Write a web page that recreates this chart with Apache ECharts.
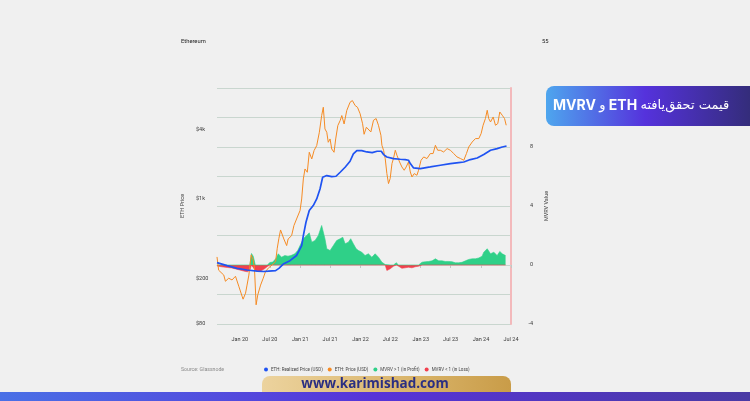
<!DOCTYPE html>
<html>
<head>
<meta charset="utf-8">
<script src="https://cdn.jsdelivr.net/npm/echarts@6/dist/echarts.min.js"></script>
<style>
html,body{margin:0;padding:0;background:#f0f0f0;}
#c{width:750px;height:401px;}
</style>
</head>
<body>
<div id="c"></div>
<script>
// ---------- data ----------
const ethPrice = [
['2019-08-16',307],['2019-08-26',235],['2019-09-06',244],['2019-09-26',213],['2019-10-06',188],['2019-10-26',200],
['2019-11-15',193],['2019-12-06',208],['2019-12-26',170],['2020-01-15',139],['2020-01-21',131],['2020-02-05',148],
['2020-02-14',174],['2020-02-25',213],['2020-03-10',320],['2020-03-22',289],['2020-03-30',244],['2020-04-09',117],
['2020-04-19',143],['2020-05-06',174],['2020-05-22',200],['2020-06-05',229],['2020-06-25',248],['2020-07-15',261],
['2020-08-05',280],['2020-08-15',366],['2020-08-25',447],['2020-09-04',529],['2020-09-24',441],['2020-10-11',386],
['2020-10-20',441],['2020-11-10',472],['2020-11-24',578],['2020-12-10',660],['2020-12-31',782],['2021-01-10',988],
['2021-01-20',1479],['2021-01-30',1809],['2021-02-13',1693],['2021-02-25',2533],['2021-03-12',2214],['2021-03-26',2622],
['2021-04-11',2900],['2021-04-27',3793],['2021-05-11',5311],['2021-05-21',6279],['2021-05-31',4054],['2021-06-11',3793],
['2021-06-20',3099],['2021-07-01',3313],['2021-07-11',2707],['2021-07-25',2533],['2021-08-04',3313],['2021-08-17',4342],
['2021-08-31',4801],['2021-09-10',5311],['2021-09-24',4484],['2021-10-10',5873],['2021-10-30',6944],['2021-11-13',7185],
['2021-11-30',6496],['2021-12-14',6279],['2021-12-30',5507],['2022-01-14',4502],['2022-01-23',3642],['2022-02-06',4195],
['2022-02-18',4195],['2022-03-05',3816],['2022-03-21',4830],['2022-04-06',4998],['2022-04-20',4368],['2022-05-05',3570],
['2022-05-11',2917],['2022-05-21',2638],['2022-05-31',2232],['2022-06-10',1649],['2022-06-20',1348],['2022-06-30',1491],
['2022-07-11',2017],['2022-07-20',2232],['2022-07-31',2638],['2022-08-10',2385],['2022-08-26',2083],['2022-09-09',1884],
['2022-09-23',1763],['2022-10-05',1884],['2022-10-19',2083],['2022-10-30',1703],['2022-11-09',1540],['2022-11-23',1649],
['2022-12-09',1593],['2022-12-19',1763],['2023-01-03',2156],['2023-01-19',2305],['2023-02-08',2232],['2023-02-28',2468],
['2023-03-17',2468],['2023-03-31',2917],['2023-04-14',2638],['2023-04-30',2638],['2023-05-20',2549],['2023-06-10',2729],
['2023-06-30',2638],['2023-07-20',2468],['2023-08-09',2305],['2023-08-30',2232],['2023-09-19',2156],['2023-10-05',2468],
['2023-10-19',2818],['2023-11-09',3118],['2023-11-29',3340],['2023-12-19',3340],['2024-01-02',3694],['2024-01-14',4368],
['2024-01-28',4998],['2024-02-08',5908],['2024-02-17',4998],['2024-02-28',4668],['2024-03-15',5161],['2024-03-29',4368],
['2024-04-12',4519],['2024-04-24',5709],['2024-05-09',5342],['2024-05-23',4998],['2024-06-02',4368]
];
const realizedPrice = [
['2019-08-16',274],['2019-10-16',258],['2019-12-16',244],['2020-02-14',236],['2020-04-15',231],['2020-05-26',229],
['2020-06-25',231],['2020-08-05',233],['2020-08-25',244],['2020-09-20',266],['2020-10-31',285],['2020-12-10',316],
['2021-01-10',386],['2021-01-20',472],['2021-02-05',618],['2021-02-25',782],['2021-03-21',865],['2021-04-11',988],
['2021-05-01',1209],['2021-05-17',1530],['2021-06-11',1584],['2021-07-11',1552],['2021-08-06',1562],['2021-08-31',1693],
['2021-09-30',1873],['2021-10-30',2113],['2021-11-19',2448],['2021-12-10',2622],['2022-01-09',2622],['2022-02-09',2549],
['2022-03-13',2518],['2022-04-12',2585],['2022-05-07',2585],['2022-05-21',2419],['2022-06-10',2305],['2022-07-20',2232],
['2022-08-30',2200],['2022-09-29',2187],['2022-10-19',2156],['2022-10-30',2017],['2022-11-19',1847],['2022-12-30',1824],
['2023-02-28',1884],['2023-04-30',1950],['2023-06-30',2017],['2023-08-19',2058],['2023-09-19',2083],['2023-10-29',2187],
['2023-12-09',2258],['2024-01-18',2419],['2024-02-28',2638],['2024-04-08',2729],['2024-05-09',2818],['2024-06-04',2877]
];
const mvrvDates = [
'2019-08-17','2019-09-02','2019-09-26','2019-10-20','2019-11-13','2019-12-08','2020-01-01','2020-01-25','2020-02-16','2020-03-02',
'2020-03-12','2020-03-23','2020-04-04','2020-04-16','2020-05-02','2020-05-17','2020-06-01','2020-06-16','2020-07-01','2020-07-19',
'2020-08-07','2020-08-21','2020-09-10','2020-09-30','2020-10-19','2020-11-06','2020-11-30','2020-12-18','2020-12-31','2021-01-20',
'2021-02-09','2021-02-25','2021-03-12','2021-04-01','2021-04-21','2021-05-11','2021-05-21','2021-05-31','2021-06-11','2021-07-01',
'2021-07-21','2021-08-10','2021-08-31','2021-09-16','2021-09-30','2021-10-20','2021-11-03','2021-11-19','2021-12-06','2021-12-20',
'2022-01-09','2022-01-29','2022-02-18','2022-03-11','2022-03-31','2022-04-20','2022-05-11','2022-05-31','2022-06-10','2022-06-30',
'2022-07-20','2022-08-06','2022-08-20','2022-09-09','2022-09-29','2022-10-19','2022-11-09','2022-11-29','2022-12-19','2023-01-09',
'2023-01-29','2023-02-18','2023-03-11','2023-03-31','2023-04-20','2023-05-10','2023-05-30','2023-06-20','2023-07-10','2023-07-30',
'2023-08-19','2023-09-08','2023-09-29','2023-10-19','2023-11-09','2023-11-29','2023-12-19','2024-01-08','2024-01-18','2024-02-08',
'2024-02-28','2024-03-19','2024-04-08','2024-04-24','2024-05-09','2024-05-29'
];
const mvrvValues = [
-0.07,-0.10,-0.14,-0.17,-0.20,-0.27,-0.34,-0.41,-0.46,-0.35,
0.78,0.58,-0.37,-0.47,-0.44,-0.34,-0.24,-0.10,0.17,0.20,
0.44,0.76,0.53,0.64,0.60,0.64,0.76,1.00,1.32,1.78,
2.00,2.18,1.55,1.66,2.00,2.68,2.79,1.78,1.10,0.98,
1.32,1.66,1.78,1.88,1.44,1.55,1.78,1.44,1.10,0.98,
0.87,0.64,0.76,0.53,0.76,0.53,0.19,0.03,-0.37,-0.26,
-0.08,0.15,-0.08,-0.22,-0.19,-0.15,-0.19,-0.12,-0.08,0.19,
0.22,0.24,0.28,0.42,0.28,0.28,0.24,0.24,0.22,0.15,
0.15,0.18,0.28,0.38,0.42,0.42,0.48,0.60,0.87,1.10,
0.76,0.87,0.64,0.92,0.76,0.64
];
const priceTickValues = [80, 200, 1000, 4000];
const priceTickLabels = ['$80', '$200', '$1k', '$4k'];
const mvrvTickLabels = [-4, 0, 4, 8];
const monthNames = ['Jan','Feb','Mar','Apr','May','Jun','Jul','Aug','Sep','Oct','Nov','Dec'];
const legendNames = ['ETH: Realized Price (USD)', 'ETH: Price (USD)', 'MVRV > 1 (in Profit)', 'MVRV < 1 (in Loss)'];

// ---------- build ----------
const priceMin = Math.pow(10, 1.9), priceMax = Math.pow(10, 3.9665);
const profit = mvrvDates.map((d, i) => [d, Math.max(mvrvValues[i], 0)]);
const loss = mvrvDates.map((d, i) => [d, Math.min(mvrvValues[i], 0)]);
const FONT = 'Roboto';
const labelColor = '#3a3a3a';
const gridColor = '#c9d6cf';
const GREEN = '#2fd088', RED = '#f2404e';

const chart = echarts.init(document.getElementById('c'), null, {renderer: 'canvas'});
chart.setOption({
  backgroundColor: '#f0f0f0',
  animation: false,
  textStyle: {fontFamily: FONT},
  grid: {left: 217, right: 239, top: 88, bottom: 77},
  legend: {
    left: 262, top: 365, itemWidth: 4, itemHeight: 4, itemGap: 5, icon: 'circle', padding: 2,
    textStyle: {fontSize: 4.5, color: '#444', fontFamily: FONT, padding: [0, 0, 0, -2]},
    data: legendNames
  },
  xAxis: {
    type: 'time', min: '2019-08-16', max: '2024-07-01',
    minInterval: 200 * 864e5, maxInterval: 200 * 864e5,
    axisLine: {lineStyle: {color: gridColor, width: 1.2}},
    axisTick: {show: true, length: 3, lineStyle: {color: '#c2c8c4'}},
    splitLine: {show: false},
    axisLabel: {
      fontSize: 5.5, color: labelColor, margin: 13, showMaxLabel: true, hideOverlap: false,
      formatter: v => { const d = new Date(v); return monthNames[d.getMonth()] + ' ' + String(d.getFullYear()).slice(2); }
    }
  },
  yAxis: [
    {type: 'log', min: priceMin, max: priceMax, show: false},
    {
      type: 'value', position: 'left', min: Math.log10(priceMin), max: Math.log10(priceMax), interval: 0.1,
      name: 'ETH Price', nameLocation: 'middle', nameGap: 31,
      nameTextStyle: {fontSize: 5.5, color: '#444'},
      axisLine: {show: false}, axisTick: {show: false}, splitLine: {show: false},
      axisLabel: {
        fontSize: 5.5, color: labelColor, align: 'left', margin: 21,
        formatter: v => {
          const p = Math.pow(10, v);
          const i = priceTickValues.findIndex(t => Math.abs(p / t - 1) < 0.03);
          return i >= 0 ? priceTickLabels[i] : '';
        }
      }
    },
    {
      type: 'value', position: 'right', min: -4, max: 12, interval: 2,
      name: 'MVRV Value', nameLocation: 'middle', nameGap: 33,
      nameTextStyle: {fontSize: 5.5, color: '#444'},
      axisLine: {show: true, lineStyle: {color: '#f3b9bb', width: 2}},
      axisTick: {show: false},
      splitLine: {show: true, lineStyle: {color: gridColor, width: 1.2}},
      axisLabel: {
        fontSize: 5.5, color: labelColor, align: 'right', margin: 22,
        formatter: v => mvrvTickLabels.includes(v) ? String(v) : ''
      }
    }
  ],
  series: [
    {name: legendNames[2], type: 'line', yAxisIndex: 2, data: profit, showSymbol: false,
     lineStyle: {width: 0.6, color: GREEN}, itemStyle: {color: GREEN}, areaStyle: {color: GREEN, opacity: 1}, z: 1},
    {name: legendNames[3], type: 'line', yAxisIndex: 2, data: loss, showSymbol: false,
     lineStyle: {width: 0.6, color: RED}, itemStyle: {color: RED}, areaStyle: {color: RED, opacity: 1}, z: 1},
    {name: legendNames[1], type: 'line', yAxisIndex: 0, data: ethPrice, showSymbol: false,
     lineStyle: {color: '#f68b24', width: 1}, itemStyle: {color: '#f68b24'}, z: 3},
    {name: legendNames[0], type: 'line', yAxisIndex: 0, data: realizedPrice, showSymbol: false,
     lineStyle: {color: '#1f53f2', width: 1.7}, itemStyle: {color: '#1f53f2'}, z: 4}
  ],
  graphic: [
    {type: 'text', x: 181, y: 42, style: {text: 'Ethereum', fontSize: 5.8, fill: '#222', fontFamily: FONT, verticalAlign: 'middle'}},
    {type: 'text', x: 542, y: 42, style: {text: '55', fontSize: 5.8, fill: '#222', fontFamily: FONT, verticalAlign: 'middle'}},
    {type: 'text', x: 181, y: 370, style: {text: 'Source: Glassnode', fontSize: 5.2, fill: '#8a8a8a', fontFamily: FONT, verticalAlign: 'middle'}},
    {type: 'rect', shape: {x: 546, y: 86, width: 220, height: 40, r: 8},
     style: {fill: new echarts.graphic.LinearGradient(0, 0, 1, 0, [
       {offset: 0, color: '#4ea6ee'}, {offset: 0.45, color: '#5532dc'}, {offset: 1, color: '#2f2c6c'}])}},
    {type: 'text', x: 553, y: 106, style: {
      text: '{b|MVRV} {r|و} {b|ETH} {r|قیمت تحقق‌یافته}', verticalAlign: 'middle', fill: '#fff',
      rich: {
        b: {fontSize: 14, fontWeight: 'bold', fill: '#fff', fontFamily: 'Inter'},
        r: {fontSize: 13, fill: '#fff', fontFamily: 'DejaVu Sans'}
      }}},
    {type: 'rect', shape: {x: 262, y: 376, width: 249, height: 17, r: [8, 8, 0, 0]},
     style: {fill: new echarts.graphic.LinearGradient(0, 0, 1, 0, [
       {offset: 0, color: '#ecd39e'}, {offset: 0.6, color: '#d9b46a'}, {offset: 1, color: '#c99c48'}])}},
    {type: 'text', x: 375, y: 384.5, style: {text: 'www.karimishad.com', fontSize: 13.5, fontWeight: 'bold',
      fill: '#2a2f82', fontFamily: 'Open Sans', align: 'center', verticalAlign: 'middle'}},
    {type: 'rect', shape: {x: 0, y: 392, width: 750, height: 9},
     style: {fill: new echarts.graphic.LinearGradient(0, 0, 1, 0, [
       {offset: 0, color: '#4a70e6'}, {offset: 0.5, color: '#5733d8'}, {offset: 1, color: '#4a3aa4'}])}}
  ]
});
</script>
</body>
</html>
